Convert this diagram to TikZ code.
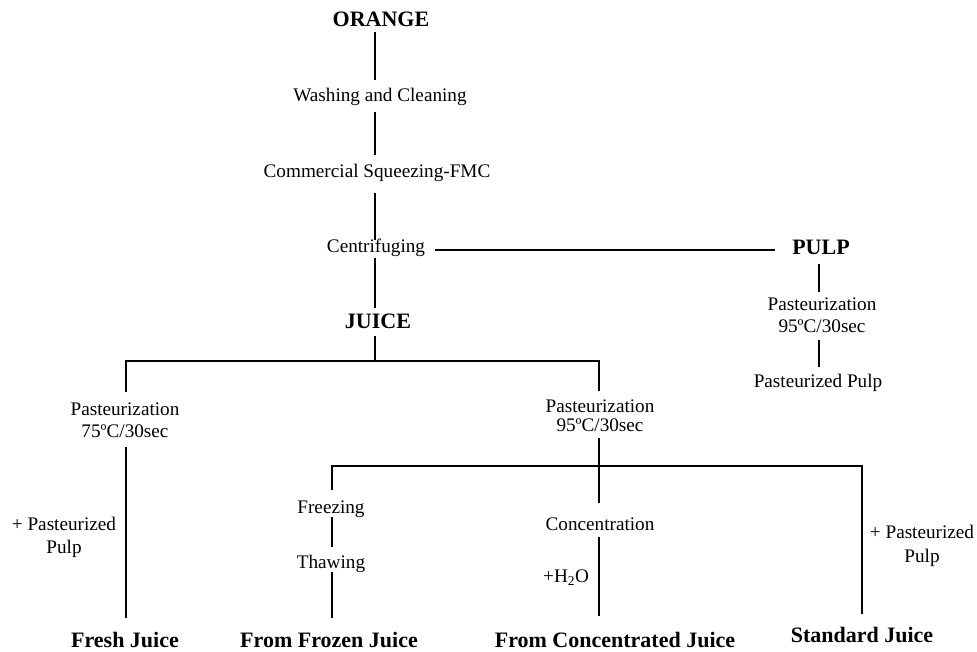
\documentclass[tikz,border=0pt]{standalone}
\usepackage{fontspec}
\setmainfont{Liberation Serif}
\begin{document}
\begin{tikzpicture}[x=1pt,y=-1pt,
  txt/.style={anchor=base, inner sep=0pt, font=\fontsize{19.2}{23}\selectfont},
  boldtxt/.style={anchor=base, inner sep=0pt, font=\fontsize{22}{26}\selectfont\bfseries},
  ln/.style={line width=1.5pt, black}]
\useasboundingbox (0,0) rectangle (977,652);
% ---- text nodes ----
\node[boldtxt] (orange) at (381,27) {ORANGE};
\node[txt] (wash) at (380,102) {Washing and Cleaning};
\node[txt] (comm) at (377,178) {Commercial Squeezing-FMC};
\node[txt] (centr) at (376,253) {Centrifuging};
\node[boldtxt] (pulp) at (821,255) {PULP};
\node[txt] (ppa) at (822,311) {Pasteurization};
\node[txt] (ppb) at (822,332) {95ºC/30sec};
\node[txt] (ppulp) at (818,387) {Pasteurized Pulp};
\node[boldtxt] (juice) at (378,328) {JUICE};
\node[txt] (lpa) at (125,415) {Pasteurization};
\node[txt] (lpb) at (125,437) {75ºC/30sec};
\node[txt] (rpa) at (600,412) {Pasteurization};
\node[txt] (rpb) at (600,431) {95ºC/30sec};
\node[txt] (laddA) at (64,530) {+ Pasteurized};
\node[txt] (laddB) at (64,553) {Pulp};
\node[txt] (freez) at (331,513) {Freezing};
\node[txt] (thaw) at (331,568) {Thawing};
\node[txt] (conc) at (600,530) {Concentration};
\node[txt, anchor=base west] (water) at (543,582) {+H\textsubscript{2}O};
\node[txt] (raddA) at (922,538) {+ Pasteurized};
\node[txt] (raddB) at (922,562) {Pulp};
\node[boldtxt] (fresh) at (125,647) {Fresh Juice};
\node[boldtxt] (frozen) at (329,647) {From Frozen Juice};
\node[boldtxt] (concj) at (615,647) {From Concentrated Juice};
\node[boldtxt] (stand) at (862,642) {Standard Juice};
% ---- connector end points ----
\coordinate (m1) at (375,32);  \coordinate (m2) at (375,80);
\coordinate (m3) at (375,112); \coordinate (m4) at (375,155);
\coordinate (m5) at (375,193); \coordinate (m6) at (375,240);
\coordinate (m7) at (375,258); \coordinate (m8) at (375,308);
\coordinate (m9) at (375,336); \coordinate (m10) at (375,361);
\coordinate (h1) at (435,250); \coordinate (h2) at (775,250);
\coordinate (p1) at (819,264); \coordinate (p2) at (819,292);
\coordinate (p3) at (819,340); \coordinate (p4) at (819,367);
\coordinate (jl) at (126,361); \coordinate (jr) at (599,361);
\coordinate (l1) at (126,392); \coordinate (l2) at (126,447); \coordinate (l3) at (126,618);
\coordinate (r1) at (599,391); \coordinate (r2) at (599,438); \coordinate (r3) at (599,503);
\coordinate (r4) at (599,537); \coordinate (r5) at (599,616);
\coordinate (sl) at (332,466); \coordinate (sr) at (862,466);
\coordinate (f1) at (332,490); \coordinate (f2) at (332,517); \coordinate (f3) at (332,547);
\coordinate (f4) at (332,572); \coordinate (f5) at (332,618);
\coordinate (s1) at (862,614);
% ---- connectors ----
\draw[ln] (m1) -- (m2);
\draw[ln] (m3) -- (m4);
\draw[ln] (m5) -- (m6);
\draw[ln] (m7) -- (m8);
\draw[ln] (m9) -- (m10);
\draw[ln] (h1) -- (h2);
\draw[ln] (p1) -- (p2);
\draw[ln] (p3) -- (p4);
\draw[ln] (l1) -- (jl) -- (jr) -- (r1);
\draw[ln] (l2) -- (l3);
\draw[ln] (r2) -- (r3);
\draw[ln] (r4) -- (r5);
\draw[ln] (f1) -- (sl) -- (sr) -- (s1);
\draw[ln] (f2) -- (f3);
\draw[ln] (f4) -- (f5);
\end{tikzpicture}
\end{document}
